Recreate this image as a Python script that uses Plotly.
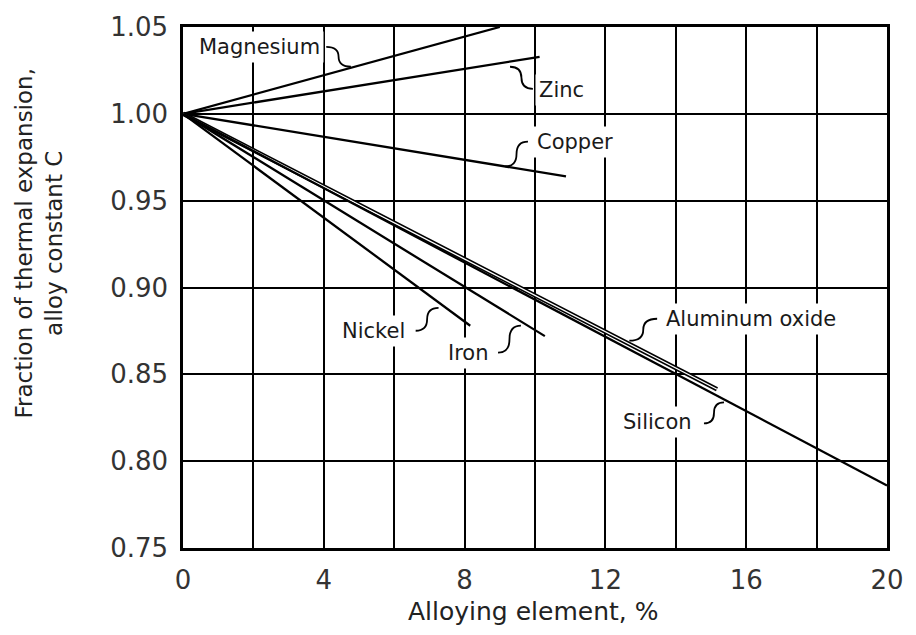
import plotly.graph_objects as go

# ---- data ----
series_names = ["Magnesium", "Zinc", "Copper", "Nickel", "Iron", "Aluminum oxide", "Silicon"]
alloy_pct_start = [0, 0, 0, 0, 0, 0, 0]
alloy_pct_end = [9.0, 10.13, 10.88, 8.16, 10.28, 15.17, 20.0]
factor_start = [1.0, 1.0, 1.0, 1.0, 1.0, 1.0, 1.0]
factor_end = [1.05, 1.0328, 0.964, 0.878, 0.872, 0.8414, 0.786]

x_tick_vals = [0, 2, 4, 6, 8, 10, 12, 14, 16, 18, 20]
x_tick_text = ["0", "", "4", "", "8", "", "12", "", "16", "", "20"]
y_tick_vals = [0.75, 0.80, 0.85, 0.90, 0.95, 1.00, 1.05]
y_tick_text = ["0.75", "0.80", "0.85", "0.90", "0.95", "1.00", "1.05"]

# ---- label layout (text centre, leader tail, leader head) in data units ----
label_layout = {
    "Magnesium":      dict(tx=2.18, ty=1.0385, lx0=4.07, ly0=1.0385, lx1=4.77, ly1=1.0271),
    "Zinc":           dict(tx=10.75, ty=1.0139, lx0=9.94, ly0=1.0144, lx1=9.29, ly1=1.0271),
    "Copper":         dict(tx=11.15, ty=0.984, lx0=9.80, ly0=0.984, lx1=9.15, ly1=0.9697),
    "Nickel":         dict(tx=5.40, ty=0.8751, lx0=6.61, ly0=0.8751, lx1=7.26, ly1=0.8883),
    "Iron":           dict(tx=8.11, ty=0.862, lx0=8.95, ly0=0.8625, lx1=9.60, ly1=0.878),
    "Aluminum oxide": dict(tx=16.14, ty=0.882, lx0=13.47, ly0=0.882, lx1=12.68, ly1=0.8694),
    "Silicon":        dict(tx=13.47, ty=0.8224, lx0=14.80, ly0=0.8218, lx1=15.37, ly1=0.8338),
}

FONT = "DejaVu Sans"

fig = go.Figure()

for i, name in enumerate(series_names):
    xs = [alloy_pct_start[i], alloy_pct_end[i]]
    ys = [factor_start[i], factor_end[i]]
    if name == "Aluminum oxide":
        # drawn as an open double line
        fig.add_trace(go.Scatter(x=xs, y=ys, mode="lines", name=name,
                                 line=dict(color="black", width=4.5), hoverinfo="skip"))
        fig.add_trace(go.Scatter(x=xs, y=ys, mode="lines", name=name + " (inner)",
                                 line=dict(color="white", width=1.3), hoverinfo="skip"))
    else:
        fig.add_trace(go.Scatter(x=xs, y=ys, mode="lines", name=name,
                                 line=dict(color="black", width=2.3), hoverinfo="skip"))

annotations = []
shapes = []
for name in series_names:
    p = label_layout[name]
    annotations.append(dict(
        x=p["tx"], y=p["ty"], xref="x", yref="y", text=name, showarrow=False,
        font=dict(family=FONT, size=21, color="#1a1a1a"),
        bgcolor="white", borderpad=3, xanchor="center", yanchor="middle"))
    # curved leader line from label to its curve
    mx = (p["lx0"] + p["lx1"]) / 2
    my = (p["ly0"] + p["ly1"]) / 2
    shapes.append(dict(
        type="path", xref="x", yref="y",
        path=(f"M {p['lx0']},{p['ly0']} Q {mx},{p['ly0']} {mx},{my} "
              f"T {p['lx1']},{p['ly1']}"),
        line=dict(color="black", width=1.8)))

# axis titles
annotations.append(dict(
    x=0.497, y=-0.122, xref="paper", yref="paper", text="Alloying element, %",
    showarrow=False, font=dict(family=FONT, size=25, color="#222"),
    xanchor="center", yanchor="middle"))
annotations.append(dict(
    x=-0.204, y=0.585, xref="paper", yref="paper",
    text="Fraction of thermal expansion,<br>alloy constant C",
    showarrow=False, textangle=-90, font=dict(family=FONT, size=23, color="#222"),
    xanchor="center", yanchor="middle"))

fig.update_layout(
    width=916, height=635,
    margin=dict(l=183, r=25, t=25, b=87),
    paper_bgcolor="white", plot_bgcolor="white",
    showlegend=False,
    annotations=annotations,
    shapes=shapes,
    xaxis=dict(range=[0, 20], tickvals=x_tick_vals, ticktext=x_tick_text,
               showgrid=True, gridcolor="black", gridwidth=1.8,
               showline=True, linecolor="black", linewidth=2.5, mirror=True,
               zeroline=False, ticks="", ticklabelstandoff=7,
               tickfont=dict(family=FONT, size=26, color="#333")),
    yaxis=dict(range=[0.75, 1.05], tickvals=y_tick_vals, ticktext=y_tick_text,
               showgrid=True, gridcolor="black", gridwidth=1.8,
               showline=True, linecolor="black", linewidth=2.5, mirror=True,
               zeroline=False, ticks="", ticklabelstandoff=7,
               tickfont=dict(family=FONT, size=26, color="#333")),
)

fig.write_html("out.html")
